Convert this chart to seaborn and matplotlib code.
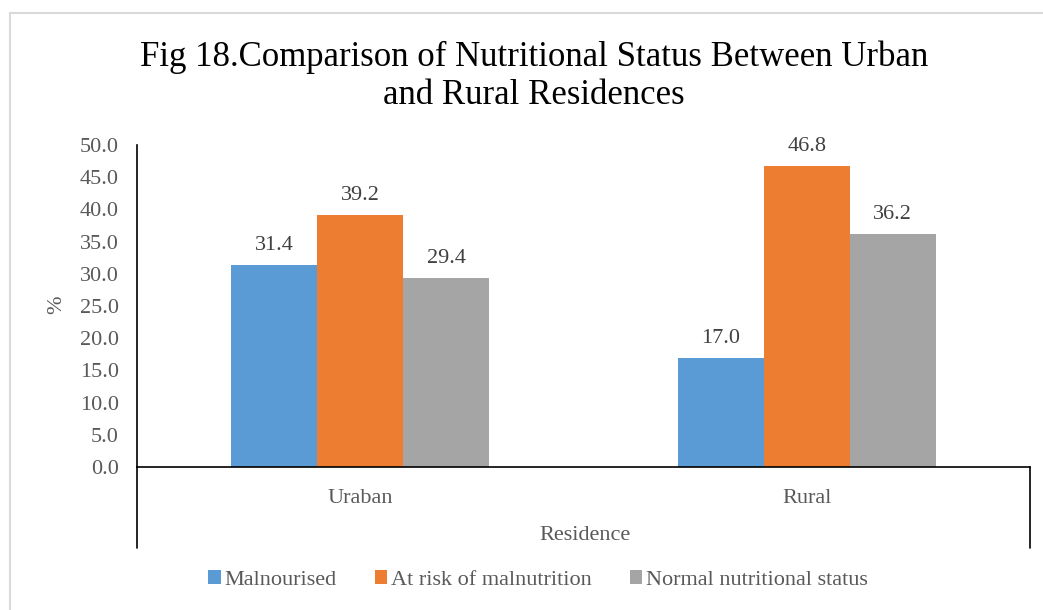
import matplotlib
matplotlib.use("Agg")
import matplotlib.pyplot as plt
from matplotlib.patches import Patch, Rectangle
from matplotlib.lines import Line2D
import seaborn as sns
import pandas as pd

# Data
residences = ["Uraban", "Rural"]
statuses = ["Malnourised", "At risk of malnutrition", "Normal nutritional status"]
malnourised = [31.4, 17.0]
at_risk = [39.2, 46.8]
normal = [29.4, 36.2]
colors = ["#5B9BD5", "#ED7D31", "#A5A5A5"]

rows = []
for i, r in enumerate(residences):
    for s, vals in zip(statuses, [malnourised, at_risk, normal]):
        rows.append({"Residence": r, "Status": s, "Percent": vals[i]})
df = pd.DataFrame(rows)

sns.set_theme(style="white")
plt.rcParams["font.family"] = ["Liberation Serif", "DejaVu Serif"]

FS = 16
W, H = 1043, 610
fig = plt.figure(figsize=(W / 100, H / 100), dpi=100)
ax = fig.add_axes([137 / W, 1 - 467 / H, (1030 - 137) / W, (467 - 145) / H])

sns.barplot(data=df, x="Residence", y="Percent", hue="Status", order=residences,
            hue_order=statuses, palette=colors, width=0.578, saturation=1,
            edgecolor="none", linewidth=0, errorbar=None, ax=ax, legend=False)

for cont in ax.containers:
    ax.bar_label(cont, fmt="%.1f", padding=7, fontsize=FS, color="#404040")

ax.set_ylim(0, 50)
ax.set_yticks([i * 5 for i in range(11)])
ax.set_yticklabels([f"{i * 5:.1f}" for i in range(11)], fontsize=FS, color="#595959")
ax.set_xlim(-0.5, 1.5)
ax.tick_params(axis="y", length=0, pad=13)
ax.tick_params(axis="x", length=0, pad=16, labelsize=FS, labelcolor="#595959")
ax.set_xlabel("")
ax.set_ylabel("")

for side in ["top", "right"]:
    ax.spines[side].set_visible(False)
ax.spines["left"].set_color("black")
ax.spines["left"].set_linewidth(1.2)
ax.spines["bottom"].set_color("black")
ax.spines["bottom"].set_linewidth(1.2)

# category axis box below the plot
depth = -81 / 322
for xa in (0, 1):
    ax.add_line(Line2D([xa, xa], [0, depth], transform=ax.transAxes, color="black",
                       lw=1.2, clip_on=False))

fig.text(585 / W, 1 - 536 / H, "Residence", ha="center", va="center",
         fontsize=FS, color="#595959")
fig.text(57 / W, 1 - 305 / H, "%", ha="center", va="center", rotation=90,
         fontsize=FS, color="#595959")

fig.text(534 / W, 1 - 57 / H, "Fig 18.Comparison of Nutritional Status Between Urban",
         ha="center", va="center", fontsize=25, color="black")
fig.text(534 / W, 1 - 95 / H, "and Rural Residences",
         ha="center", va="center", fontsize=25, color="black")

handles = [Patch(facecolor=c, edgecolor="none", label=s) for c, s in zip(colors, statuses)]
leg = fig.legend(handles=handles, loc="center", bbox_to_anchor=(538 / W, 1 - 580 / H),
                 ncol=3, frameon=False, fontsize=FS, handlelength=0.55, handleheight=0.55,
                 handletextpad=0.15, columnspacing=1.75)
for t in leg.get_texts():
    t.set_color("#595959")

# outer chart border
fig.add_artist(Rectangle((10 / W, -0.05), (W + 20) / W, 1 - 13 / H + 0.05,
                         transform=fig.transFigure, fill=False, edgecolor="#D9D9D9", lw=1.5))

fig.savefig("out.png", dpi=100)
